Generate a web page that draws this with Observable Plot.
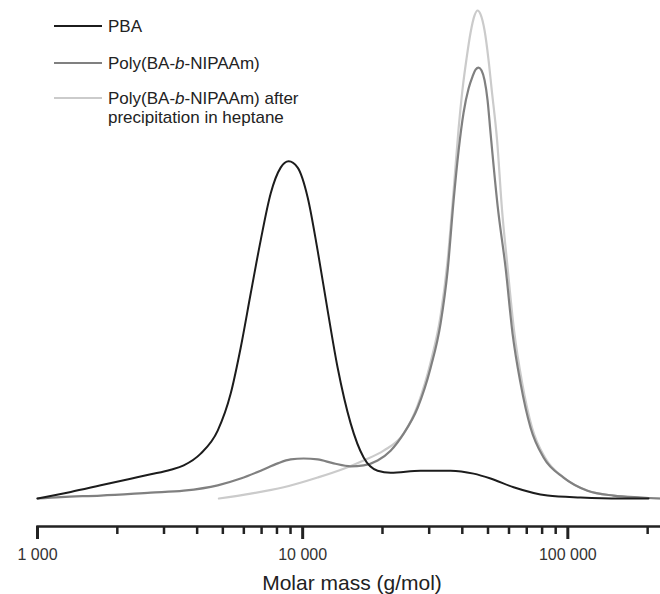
<!DOCTYPE html>
<html>
<head>
<meta charset="utf-8">
<script src="https://cdn.jsdelivr.net/npm/d3@7"></script>
<script src="https://cdn.jsdelivr.net/npm/@observablehq/plot@0.6"></script>
<style>
  html, body { margin: 0; padding: 0; background: #fff; }
  #wrap { position: relative; width: 660px; height: 594px; font-family: "Liberation Sans", Arial, sans-serif; }
  .leg { position: absolute; font-size: 17px; line-height: 19px; color: #222; white-space: nowrap; }
  .sw { position: absolute; }
</style>
</head>
<body>
<div id="wrap"></div>
<script>
// Series names
const seriesNames = ["PBA", "Poly(BA-b-NIPAAm)", "Poly(BA-b-NIPAAm) after precipitation in heptane"];

// PBA (molar mass g/mol, normalized intensity)
const pbaM = [1000, 1335, 1732, 2247, 2673, 3180, 3560, 4126, 4782, 5353, 5838, 6368, 6945, 7575, 8260, 8855, 9575, 10445, 11390, 12425, 13550, 15170, 16980, 19170, 21460, 27860, 36140, 44120, 51130, 62440, 83870, 111700, 158000, 201400];
const pbaI = [0, 1.35, 2.7, 4.05, 4.95, 5.9, 6.8, 9.2, 13.9, 21.5, 30.9, 42.0, 52.9, 62.5, 67.8, 69.1, 67.8, 61.7, 50.8, 38.5, 26.8, 15.4, 8.4, 5.7, 5.3, 5.7, 5.7, 5.1, 4.1, 2.3, 0.6, 0.2, 0, 0];

// Poly(BA-b-NIPAAm)
const copoM = [1000, 1224, 1732, 2673, 3560, 4782, 5838, 6945, 8050, 9010, 10090, 11390, 13090, 15170, 16980, 19170, 21460, 24030, 27140, 30380, 33130, 35210, 37090, 38730, 40450, 42240, 43740, 44880, 46070, 47280, 48530, 49810, 51130, 54340, 58240, 61880, 66340, 72350, 80990, 96330, 118700, 148700, 187900, 223600];
const copoI = [0, 0.3, 0.6, 1.2, 1.6, 2.7, 4.1, 5.7, 7.2, 8.0, 8.2, 8.0, 7.2, 6.6, 6.8, 7.8, 9.8, 13.3, 18.6, 26.8, 35.9, 46.7, 61.1, 71.3, 79.1, 84.0, 86.5, 87.9, 88.3, 87.7, 85.7, 81.6, 74.8, 60.0, 47.3, 33.8, 23.6, 14.5, 8.4, 4.3, 1.6, 0.6, 0.2, 0];

// Poly(BA-b-NIPAAm) after precipitation in heptane
const precM = [4832, 6368, 8480, 11390, 14280, 16980, 20200, 24030, 27140, 30380, 33130, 35210, 37090, 38730, 40100, 41510, 42980, 44490, 45670, 46870, 48530, 50250, 51580, 54100, 56500, 59000, 62700, 67200, 73300, 82000, 97600, 118700, 148700, 187900, 223600];
const precI = [0, 1.0, 2.3, 4.3, 6.1, 7.8, 9.8, 13.3, 19.1, 27.9, 37.5, 48.8, 63.1, 75.8, 84.0, 90.2, 95.5, 99.0, 100, 99.2, 95.9, 89.8, 84.0, 73.4, 59.0, 48.4, 34.4, 23.8, 14.5, 8.4, 4.1, 1.6, 0.6, 0.2, 0];

// Axis ticks
const majorTicks = [1000, 10000, 100000];
const tickLabels = ["1 000", "10 000", "100 000"];
const minorTicks = [2000, 3000, 4000, 5000, 6000, 7000, 8000, 9000, 20000, 30000, 40000, 50000, 60000, 70000, 80000, 90000, 200000];
const xLabel = "Molar mass (g/mol)";

const colors = ["#1c1c1c", "#808080", "#cbcbcb"];

const zip = (M, I) => M.map((m, i) => ({M: m, I: I[i]}));
const pba = zip(pbaM, pbaI);
const copo = zip(copoM, copoI);
const prec = zip(precM, precI);

const chart = Plot.plot({
  width: 660,
  height: 594,
  marginLeft: 37,
  marginRight: 0,
  marginTop: 10,
  marginBottom: 68,
  insetBottom: 28,
  style: {fontFamily: '"Liberation Sans", Arial, sans-serif', background: "#fff"},
  x: {type: "log", domain: [1000, 223600], axis: null},
  y: {domain: [0, 100], axis: null},
  marks: [
    Plot.frame({anchor: "bottom", stroke: "#222", strokeWidth: 2.4}),
    Plot.axisX({ticks: minorTicks, tickSize: 8, tickFormat: () => "", strokeWidth: 2.5, stroke: "#222", label: null}),
    Plot.axisX({ticks: majorTicks, tickSize: 13, tickPadding: 9, strokeWidth: 3, stroke: "#222", fill: "#333", fontSize: 16,
      tickFormat: d => tickLabels[majorTicks.indexOf(d)], label: null}),
    Plot.text([xLabel], {text: d => d, frameAnchor: "bottom", lineAnchor: "middle", dy: 57, dx: 3, fontSize: 21, fill: "#222"}),
    Plot.line(prec, {x: "M", y: "I", stroke: colors[2], strokeWidth: 2.2, curve: "monotone-x"}),
    Plot.line(copo, {x: "M", y: "I", stroke: colors[1], strokeWidth: 2.2, curve: "monotone-x"}),
    Plot.line(pba, {x: "M", y: "I", stroke: colors[0], strokeWidth: 2, curve: "monotone-x"})
  ]
});

const wrap = document.getElementById("wrap");
wrap.appendChild(chart);
chart.style.position = "absolute";
chart.style.left = "0";
chart.style.top = "0";

// Legend
const legendRows = [
  {name: seriesNames[0], html: "PBA", y: 26, color: colors[0]},
  {name: seriesNames[1], html: "Poly(BA-<i>b</i>-NIPAAm)", y: 63, color: colors[1]},
  {name: seriesNames[2], html: "Poly(BA-<i>b</i>-NIPAAm) after<br>precipitation in heptane", y: 98, color: colors[2]}
];
legendRows.forEach(r => {
  const sw = document.createElementNS("http://www.w3.org/2000/svg", "svg");
  sw.setAttribute("class", "sw");
  sw.setAttribute("width", "50");
  sw.setAttribute("height", "6");
  sw.style.left = "54px";
  sw.style.top = (r.y - 3) + "px";
  sw.innerHTML = `<line x1="0" x2="48" y1="3" y2="3" stroke="${r.color}" stroke-width="2.2"/>`;
  wrap.appendChild(sw);
  const t = document.createElement("div");
  t.className = "leg";
  t.style.left = "108px";
  t.style.top = (r.y - 9.5) + "px";
  t.innerHTML = r.html;
  wrap.appendChild(t);
});
</script>
</body>
</html>
